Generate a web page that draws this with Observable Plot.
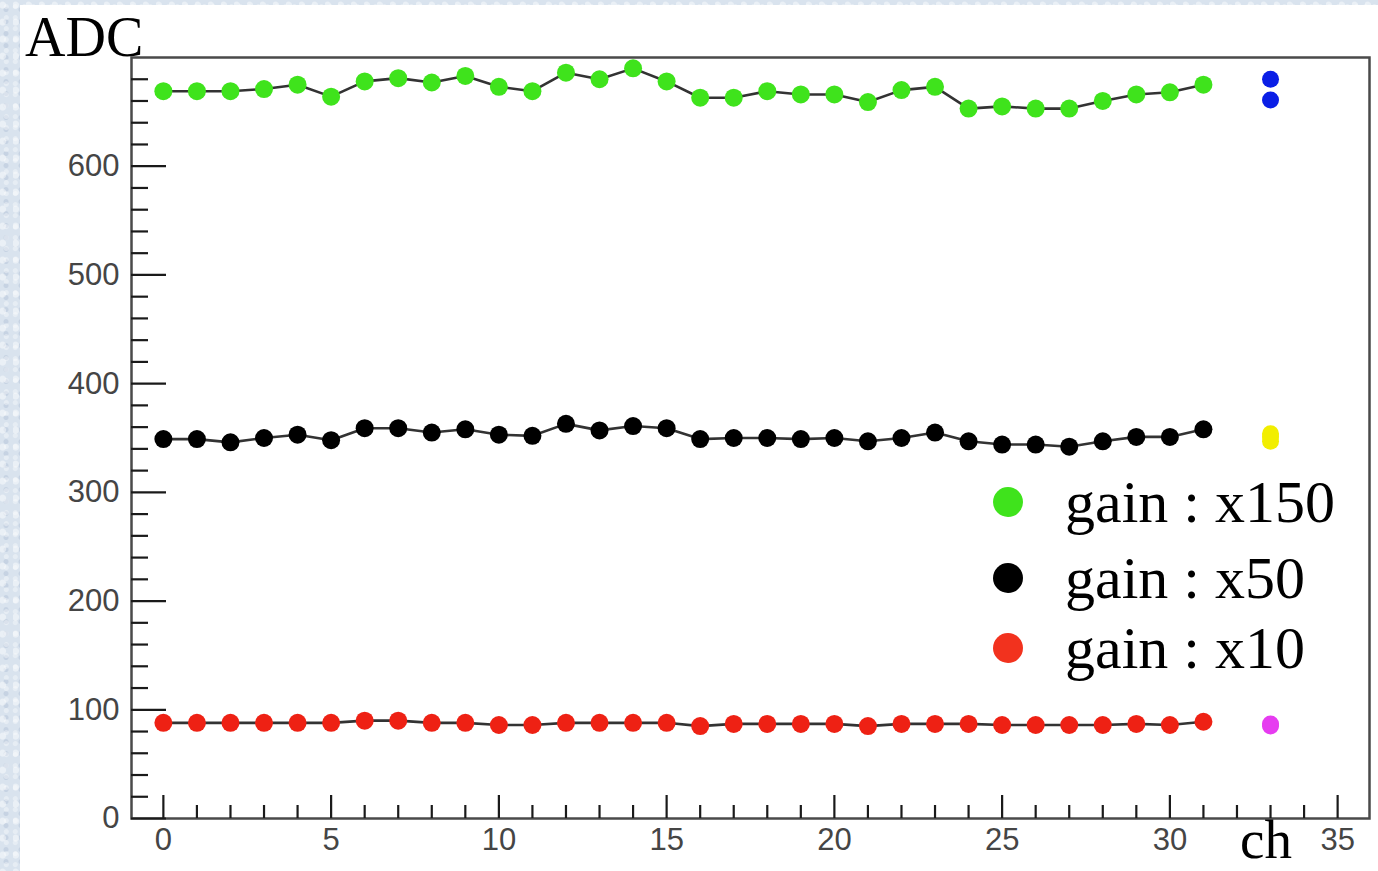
<!DOCTYPE html>
<html>
<head>
<meta charset="utf-8">
<script src="https://cdn.jsdelivr.net/npm/d3@7"></script>
<script src="https://cdn.jsdelivr.net/npm/@observablehq/plot@0.6"></script>
<style>
  html, body { margin: 0; padding: 0; }
  body {
    width: 1378px; height: 871px; overflow: hidden; position: relative;
    background-color: #d9e3ee;
    background-image:
      radial-gradient(circle at 20% 30%, rgba(255,255,255,0.45) 0 3px, transparent 4px),
      radial-gradient(circle at 70% 60%, rgba(255,255,255,0.35) 0 2px, transparent 3px),
      radial-gradient(circle at 40% 80%, rgba(180,195,215,0.5) 0 2px, transparent 3px);
    background-size: 13px 17px, 9px 11px, 15px 12px;
  }
  #card { position: absolute; left: 20px; top: 5px; width: 1358px; height: 866px; background: #fff; }
  #card svg { display: block; }
  .serif { position: absolute; font-family: "Liberation Serif", "DejaVu Serif", serif; color: #000; white-space: nowrap; line-height: 1; }
  #ytitle { left: 25px; top: 9px; font-size: 56px; }
  #xtitle { left: 1240px; top: 812px; font-size: 55px; }
  .legrow { position: absolute; left: 993px; height: 60px; display: flex; align-items: center; }
  .legrow .dot { width: 30px; height: 30px; border-radius: 50%; margin-right: 42px; }
  .legrow .lab { font-family: "Liberation Serif", "DejaVu Serif", serif; font-size: 60px; line-height: 1; }
</style>
</head>
<body>
<div id="card"></div>
<div id="ytitle" class="serif">ADC</div>
<div id="xtitle" class="serif">ch</div>
<div id="legend"></div>
<script>
// ---- data ----
const channels = [0,1,2,3,4,5,6,7,8,9,10,11,12,13,14,15,16,17,18,19,20,21,22,23,24,25,26,27,28,29,30,31];
const gainX150 = [669,669,669,671,675,664,678,681,677,683,673,669,686,680,690,678,663,663,669,666,666,659,670,673,653,655,653,653,660,666,668,675];
const gainX50  = [349,349,346,350,353,348,359,359,355,358,353,352,363,357,361,359,349,350,350,349,350,347,350,355,347,344,344,342,347,351,351,358];
const gainX10  = [88,88,88,88,88,88,90,90,88,88,86,86,88,88,88,88,85,87,87,87,87,85,87,87,87,86,86,86,86,87,86,89];
const extraChannel = 33;
const extraBlue = [680, 661];
const extraYellow = [347, 351, 354];
const extraMagenta = [85, 87];
const seriesNames = ["gain : x150", "gain : x50", "gain : x10"];
const seriesColors = ["#3fe31c", "#000000", "#ee2114"];
const xTickLabels = [0, 5, 10, 15, 20, 25, 30, 35];
const yTickLabels = [0, 100, 200, 300, 400, 500, 600];

// ---- build tables ----
const seriesValues = [gainX150, gainX50, gainX10];
const rows = [];
seriesValues.forEach((vals, s) => vals.forEach((v, i) => rows.push({ch: channels[i], adc: v, series: seriesNames[s]})));
const extras = [
  ...extraBlue.map(v => ({ch: extraChannel, adc: v, color: "#0a1ee6"})),
  ...extraYellow.map(v => ({ch: extraChannel, adc: v, color: "#f2ee00"})),
  ...extraMagenta.map(v => ({ch: extraChannel, adc: v, color: "#e63cf0"}))
];
const xMinor = d3.range(0, 36).filter(d => !xTickLabels.includes(d));
const yMinor = d3.range(20, 700, 20).filter(d => !yTickLabels.includes(d));

const labelFont = {fontSize: 31, fontFamily: "'Liberation Sans', Arial, sans-serif", fill: "#454545", stroke: "#454545", strokeWidth: 0.5};

const plot = Plot.plot({
  width: 1358,
  height: 866,
  marginLeft: 111,
  marginTop: 52,
  marginRight: 9,
  marginBottom: 53,
  style: {background: "transparent", fontFamily: "'Liberation Sans', Arial, sans-serif", fontSize: "31px"},
  x: {domain: [-0.95, 35.95]},
  y: {domain: [0, 700]},
  color: {domain: seriesNames, range: seriesColors},
  marks: [
    Plot.frame({stroke: "#4a4a4a", strokeWidth: 2.5}),
    // y ticks (inward)
    Plot.axisY({ticks: yTickLabels, tickSize: -35, fill: "none", label: null, stroke: "#1a1a1a", strokeWidth: 2.2}),
    Plot.axisY({ticks: yMinor, tickSize: -17, fill: "none", label: null, stroke: "#1a1a1a", strokeWidth: 2.2}),
    Plot.axisY({ticks: yTickLabels, tickSize: 0, tickPadding: 12, label: null, tickFormat: d3.format("d"), ...labelFont}),
    // x ticks (inward)
    Plot.axisX({ticks: xTickLabels, tickSize: -23, fill: "none", label: null, stroke: "#1a1a1a", strokeWidth: 2.2}),
    Plot.axisX({ticks: xMinor, tickSize: -13, fill: "none", label: null, stroke: "#1a1a1a", strokeWidth: 2.2}),
    Plot.axisX({ticks: xTickLabels, tickSize: 0, tickPadding: 9, label: null, tickFormat: d3.format("d"), ...labelFont}),
    // series
    Plot.line(rows, {x: "ch", y: "adc", z: "series", stroke: "#333", strokeWidth: 2.6}),
    Plot.dot(rows, {x: "ch", y: "adc", fill: "series", r: 9}),
    Plot.dot(extras, {x: "ch", y: "adc", fill: d => d.color, r: 8.5})
  ]
});
document.getElementById("card").appendChild(plot);

// ---- legend ----
const legendTops = [472, 548, 618];
const legend = document.getElementById("legend");
seriesNames.forEach((name, i) => {
  const row = document.createElement("div");
  row.className = "legrow";
  row.style.top = legendTops[i] + "px";
  const dot = document.createElement("div");
  dot.className = "dot";
  dot.style.background = i === 2 ? "#f2321e" : seriesColors[i];
  const lab = document.createElement("div");
  lab.className = "lab";
  lab.textContent = name;
  row.appendChild(dot);
  row.appendChild(lab);
  legend.appendChild(row);
});
</script>
</body>
</html>
